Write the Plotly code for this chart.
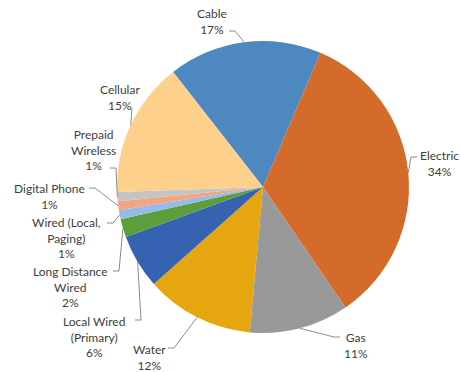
import math
import plotly.graph_objects as go

# ---- data ----
labels = ["Cable", "Electric", "Gas", "Water", "Local Wired (Primary)",
          "Long Distance Wired", "Wired (Local, Paging)", "Digital Phone",
          "Prepaid Wireless", "Cellular"]
label_text = ["Cable<br>17%", "Electric<br>34%", "Gas<br>11%", "Water<br>12%",
              "Local Wired<br>(Primary)<br>6%", "Long Distance<br>Wired<br>2%",
              "Wired (Local,<br>Paging)<br>1%", "Digital Phone<br>1%",
              "Prepaid<br>Wireless<br>1%", "Cellular<br>15%"]
values = [17, 34, 11, 12, 6, 2, 1, 1, 1, 15]
colors = ["#4E88C0", "#D46B2A", "#999999", "#E5A60F", "#3662B2",
          "#5D9E3C", "#95BCE6", "#F2A584", "#C4C4C4", "#FDD08C"]

# ---- layout ----
W, H = 461, 372
CX, CY, R = 263, 187, 146
ROT = -38

# label text centres (pixels) and where leader line meets the label (pixels)
label_pos = [(212, 22), (439, 163), (356, 345), (149, 357), (94, 337),
             (70, 287), (66, 238), (49, 196), (93, 150), (120, 97)]
leader_start = [(229, 31), (417, 157), (340, 337), (168, 348), (135, 320),
                (113, 271), (107, 223), (89, 188), (110, 168), (132, 108)]
leader_dir = [1, -1, -1, 1, 1, 1, 1, 1, 1, 0]

fig = go.Figure(go.Pie(
    labels=labels, values=values, sort=False, direction="clockwise",
    rotation=ROT, marker=dict(colors=colors, line=dict(width=0)),
    textinfo="none", hoverinfo="label+percent", showlegend=False,
    domain=dict(x=[(CX - R) / W, (CX + R) / W],
                y=[(H - CY - R) / H, (H - CY + R) / H]),
))

def px2paper(x, y):
    return x / W, 1 - y / H

total = sum(values)
cum = 0
shapes = []
annotations = []
for i, v in enumerate(values):
    mid = ROT + (cum + v / 2) / total * 360
    cum += v
    a = math.radians(mid)
    ex, ey = CX + R * math.sin(a), CY - R * math.cos(a)
    sx, sy = leader_start[i]
    kx = sx + 6 * leader_dir[i]
    p = [px2paper(sx, sy), px2paper(kx, sy), px2paper(ex, ey)]
    path = "M {} {} L {} {} L {} {}".format(p[0][0], p[0][1], p[1][0], p[1][1], p[2][0], p[2][1])
    shapes.append(dict(type="path", xref="paper", yref="paper", path=path,
                       line=dict(color="#8C8C8C", width=1)))
    lx, ly = px2paper(*label_pos[i])
    annotations.append(dict(x=lx, y=ly, xref="paper", yref="paper",
                            text=label_text[i], showarrow=False,
                            xanchor="center", yanchor="middle",
                            font=dict(family="Lato", size=12, color="#404040")))

fig.update_layout(
    width=W, height=H, margin=dict(l=0, r=0, t=0, b=0),
    paper_bgcolor="white", plot_bgcolor="white",
    shapes=shapes, annotations=annotations,
)
fig.write_html("out.html", config={"displayModeBar": False},
               post_script="document.body.style.margin='0';document.body.style.overflow='hidden';")
